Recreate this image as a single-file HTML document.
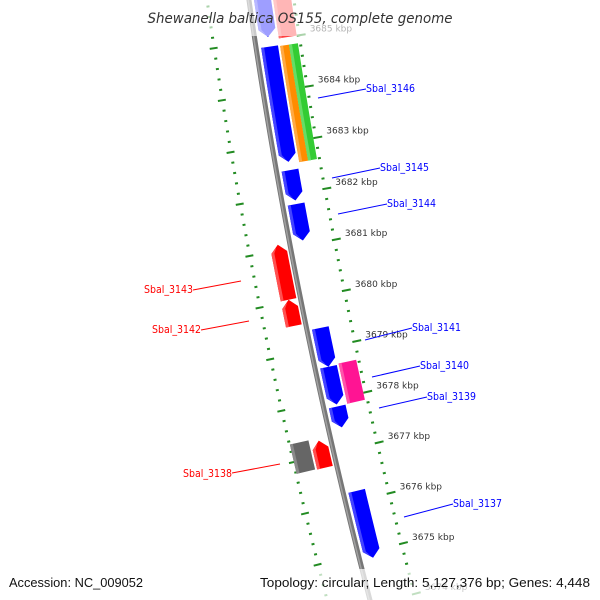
<!DOCTYPE html>
<html><head><meta charset="utf-8"><style>
html,body{margin:0;padding:0;background:#fff;width:600px;height:600px;overflow:hidden}
svg{display:block;overflow:hidden}
</style></head><body>
<svg id="map" width="600" height="600" viewBox="0 0 600 600" xmlns="http://www.w3.org/2000/svg" font-family="Liberation Sans, DejaVu Sans, sans-serif">
<g id="rings"></g>
<g id="backbone"></g>
<g id="features"></g>
<g id="labels"></g>
<rect x="140" y="0" width="320" height="36" fill="#fff" fill-opacity="0.62"/>
<rect x="0" y="569" width="600" height="31" fill="#fff" fill-opacity="0.72"/>
<text x="300" y="23" text-anchor="middle" font-family="DejaVu Sans, sans-serif" font-style="italic" font-size="14" fill="#333" textLength="305" lengthAdjust="spacingAndGlyphs">Shewanella baltica OS155, complete genome</text>
<text x="9" y="587" font-size="13" fill="#111" textLength="134" lengthAdjust="spacingAndGlyphs">Accession: NC_009052</text>
<text x="590" y="587" text-anchor="end" font-size="13" fill="#111" textLength="330" lengthAdjust="spacingAndGlyphs">Topology: circular; Length: 5,127,376 bp; Genes: 4,448</text>
</svg>
<script>
// data arrays (kbp)
const tickKbp = [3674,3675,3676,3677,3678,3679,3680,3681,3682,3683,3684,3685];
const fwdStart = [3685.06,3682.63,3681.88,3681.10,3678.63,3677.89,3677.44,3674.87];
const fwdEnd   = [3686.00,3684.87,3682.47,3681.81,3679.39,3678.63,3677.85,3676.19];
const ring2Start = [3682.59,3682.59,3677.86,3685.00];
const ring2End   = [3684.85,3684.85,3678.65,3685.90];
const ring2Kind  = ['orange','green','pink','red'];
const revStart = [3680.04,3679.53,3676.76];
const revEnd   = [3681.11,3680.04,3677.29];
const grayStart = [3676.77];
const grayEnd   = [3677.34];
const geneNames = ['Sbal_3146','Sbal_3145','Sbal_3144','Sbal_3143','Sbal_3142','Sbal_3141','Sbal_3140','Sbal_3139','Sbal_3138','Sbal_3137'];

const NS='http://www.w3.org/2000/svg';
const A=5733.8,B=-793.9,R=5542;
function P(k,o){const ph=(168.622+(k-3680)*0.5407)*Math.PI/180;const r=R-o;return [A+r*Math.cos(ph),B+r*Math.sin(ph)];}
function mk(tag,attrs,parent){const e=document.createElementNS(NS,tag);for(const a in attrs)e.setAttribute(a,attrs[a]);parent.appendChild(e);return e;}
const rings=document.getElementById('rings'),bb=document.getElementById('backbone'),fe=document.getElementById('features'),lb=document.getElementById('labels');

const G='#228b22';
for(let i=0;i<=65;i++){
  const k=3673.4+i*0.2;const major=Math.abs(k-Math.round(k))<0.01;
  let a=P(k,major?42:43),b=P(k,major?51:46);
  let l=mk('line',{x1:a[0],y1:a[1],x2:b[0],y2:b[1],stroke:G,'stroke-width':2},rings);
  
  
  a=P(k,major?-38:-40);b=P(k,major?-46:-43);
  l=mk('line',{x1:a[0],y1:a[1],x2:b[0],y2:b[1],stroke:G,'stroke-width':2},rings);
  
  
}
function arcPath(o,k0,k1){let d='';for(let k=k0;k<=k1+1e-9;k+=0.25){const p=P(k,o);d+=(d?'L':'M')+p[0].toFixed(2)+','+p[1].toFixed(2);}return d;}
let bp=mk('path',{d:arcPath(0,3673,3687),stroke:'#777','stroke-width':5,fill:'none'},bb);


bp=mk('path',{d:arcPath(-0.8,3673,3687),stroke:'#a0a0a0','stroke-width':1.5,fill:'none'},bb);



function feat(k0,k1,o0,o1,fill,light,tip,name){
  const tk=0.15;const om=(o0+o1)/2;let pts=[];
  let a=k0,b=k1;
  if(tip==='low')a=k0+tk; if(tip==='high')b=k1-tk;
  for(let k=b;k>=a-1e-9;k-=(b-a)/8)pts.push(P(k,o1));
  if(tip==='low')pts.push(P(k0,om));
  for(let k=a;k<=b+1e-9;k+=(b-a)/8)pts.push(P(k,o0));
  if(tip==='high')pts.push(P(k1,om));
  const d='M'+pts.map(p=>p[0].toFixed(2)+','+p[1].toFixed(2)).join('L')+'Z';
  const g=mk('g',{},fe);
  
  
  mk('path',{d:d,fill:fill},g);
  let s=[];
  for(let k=b;k>=a-1e-9;k-=(b-a)/8)s.push(P(k,o0+3));
  if(tip==='low')s.push(P(k0+0.05,om-2));
  for(let k=a;k<=b+1e-9;k+=(b-a)/8)s.push(P(k,o0));
  if(tip==='high')s.push(P(k1-0.05,om-2));
  mk('path',{d:'M'+s.map(p=>p[0].toFixed(2)+','+p[1].toFixed(2)).join('L')+'Z',fill:light},g);
}
for(let i=0;i<fwdStart.length;i++)feat(fwdStart[i],fwdEnd[i],5,22,'#0000ff','#4444ff','low','forward-gene-'+i);
const rc={orange:['#ff8c00','#ffaa44',24,33],green:['#33cc33','#66dd66',33,42],pink:['#ff1493','#ff55aa',24,42],red:['#ff4040','#ff7070',24,42]};
for(let i=0;i<ring2Start.length;i++){const c=rc[ring2Kind[i]];feat(ring2Start[i],ring2End[i],c[2],c[3],c[0],c[1],'none',ring2Kind[i]+'-feature');}
for(let i=0;i<revStart.length;i++)feat(revStart[i],revEnd[i],-20,-4,'#ff0000','#ff5050','high','reverse-gene-'+i);
for(let i=0;i<grayStart.length;i++)feat(grayStart[i],grayEnd[i],-41,-22,'#666666','#8a8a8a','none','gray-feature-'+i);

for(const k of tickKbp){const p=P(k,44);
  const t=mk('text',{x:(p[0]+11).toFixed(1),y:(p[1]-4).toFixed(1),'font-size':9,fill:'#333','font-family':'DejaVu Sans, sans-serif'},lb);
  t.textContent=k+' kbp';
  
  
}
const glab=[[0,'#0000ff',366,92,'start',318,98,366,89],[1,'#0000ff',380,171,'start',332,178,380,168],[2,'#0000ff',387,207,'start',338,214,387,204],
[3,'#ff0000',193,293,'end',193,290,241,281],[4,'#ff0000',201,333,'end',201,330,249,321],[5,'#0000ff',412,331,'start',365,340,412,328],
[6,'#0000ff',420,369,'start',372,377,420,366],[7,'#0000ff',427,400,'start',379,408,427,397],[8,'#ff0000',232,477,'end',232,473,280,464],[9,'#0000ff',453,507,'start',404,517,453,504]];
for(const g of glab){
  const l=mk('line',{x1:g[5],y1:g[6],x2:g[7],y2:g[8],stroke:g[1],'stroke-width':1},lb);
  
  
  const t=mk('text',{x:g[2],y:g[3],'font-size':11,fill:g[1],'text-anchor':g[4],textLength:49,lengthAdjust:'spacingAndGlyphs','font-family':'DejaVu Sans, sans-serif'},lb);
  t.textContent=geneNames[g[0]];
  
  
}
</script>
</body></html>
